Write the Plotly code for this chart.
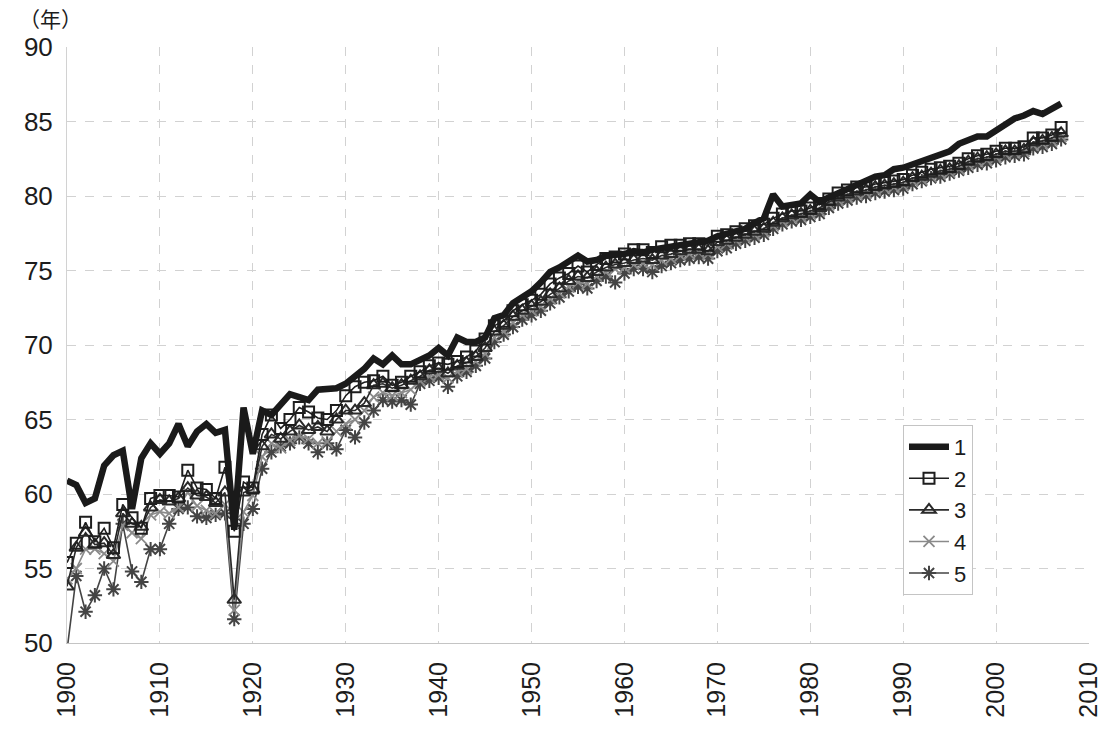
import plotly.graph_objects as go

years = list(range(1900, 2008))

series_1 = [
    60.9, 60.6, 59.4, 59.7, 61.9, 62.6, 62.9, 59.0, 62.4, 63.4,
    62.7, 63.4, 64.7, 63.2, 64.2, 64.7, 64.1, 64.3, 57.6, 65.8,
    62.7, 65.6, 65.3, 66.0, 66.7, 66.5, 66.3, 67.0, 67.0, 67.1,
    67.4, 67.9, 68.4, 69.1, 68.7, 69.3, 68.7, 68.7, 69.0, 69.3,
    69.8, 69.3, 70.5, 70.2, 70.2, 70.5, 71.8, 72.0, 72.8, 73.2,
    73.6, 74.2, 74.9, 75.2, 75.6, 76.0, 75.6, 75.7, 76.0, 76.0,
    76.1, 76.3, 76.2, 76.4, 76.5, 76.7, 76.8, 76.9, 76.9, 77.0,
    77.3, 77.5, 77.7, 77.8, 78.2, 78.5, 80.1, 79.3, 79.4, 79.5,
    80.1, 79.6, 79.9, 80.2, 80.5, 80.8, 81.0, 81.3, 81.4, 81.8,
    81.9, 82.1, 82.3, 82.5, 82.7, 83.0, 83.5, 83.8, 84.0, 84.0,
    84.4, 84.9, 85.2, 85.4, 85.7, 85.5, 85.8, 86.2,
]

series_2 = [
    55.4, 56.7, 58.1, 56.8, 57.7, 56.4, 59.3, 58.4, 57.7, 59.7,
    59.9, 59.9, 59.8, 61.6, 60.4, 60.3, 59.7, 61.8, 57.5, 60.8,
    60.4, 64.0, 65.3, 64.4, 65.0, 65.8, 65.5, 65.1, 65.0, 65.6,
    66.6, 67.2, 67.5, 67.6, 67.9, 67.3, 67.5, 67.9, 68.2, 68.6,
    68.8, 68.7, 68.9, 69.2, 69.6, 70.4, 71.3, 71.6, 72.3, 72.7,
    73.0, 73.4, 74.1, 74.5, 74.8, 75.3, 74.9, 75.4, 75.8, 75.9,
    76.1, 76.4, 76.4, 76.2, 76.6, 76.7, 76.7, 76.8, 76.8, 76.7,
    77.3, 77.4, 77.6, 77.8, 78.0, 78.1, 78.5, 78.8, 79.0, 79.0,
    79.2, 79.5, 79.8, 80.2, 80.4, 80.6, 80.6, 80.8, 80.9, 81.0,
    81.1, 81.4, 81.6, 81.8, 81.9, 82.0, 82.2, 82.5, 82.7, 82.8,
    83.0, 83.2, 83.2, 83.3, 83.9, 83.9, 84.1, 84.6,
]

series_3 = [
    53.8, 56.4, 57.4, 56.6, 56.7, 55.9, 58.7, 58.0, 57.8, 59.1,
    59.6, 59.5, 59.7, 60.4, 59.9, 59.8, 59.4, 60.1, 52.9, 60.1,
    60.3, 63.2, 64.0, 63.7, 64.2, 64.6, 64.3, 64.5, 64.2, 65.0,
    65.6, 65.6, 66.1, 67.3, 67.4, 67.1, 67.3, 67.6, 67.9, 68.3,
    68.4, 68.1, 68.6, 68.8, 69.2, 69.8, 70.9, 71.3, 71.9, 72.3,
    72.6, 72.9, 73.4, 73.8, 74.3, 74.6, 74.5, 74.9, 75.2, 75.4,
    75.5, 75.7, 75.8, 75.7, 76.0, 76.1, 76.3, 76.4, 76.4, 76.3,
    76.9, 77.0, 77.2, 77.4, 77.6, 77.8, 78.2, 78.5, 78.7, 78.8,
    79.0, 79.2, 79.6, 79.9, 80.1, 80.3, 80.4, 80.6, 80.7, 80.8,
    80.9, 81.2, 81.3, 81.5, 81.7, 81.8, 82.0, 82.3, 82.5, 82.6,
    82.8, 83.0, 83.0, 83.1, 83.6, 83.7, 83.9, 84.2,
]

series_4 = [
    54.3, 55.0, 56.3, 56.3, 56.0, 55.5, 57.9, 57.4, 57.0, 58.6,
    58.8, 58.7, 59.1, 60.1, 59.2, 58.9, 58.7, 59.3, 52.2, 58.8,
    59.9, 62.5, 63.4, 63.1, 63.6, 63.9, 63.7, 63.4, 63.5, 64.2,
    64.7, 65.0, 65.6, 66.5, 66.8, 66.6, 66.8, 67.0, 67.6, 67.9,
    68.0, 67.8, 68.2, 68.4, 68.9, 69.4, 70.5, 70.9, 71.5, 72.0,
    72.3, 72.6, 73.1, 73.5, 73.9, 74.2, 74.1, 74.6, 74.9, 75.1,
    75.2, 75.4, 75.5, 75.4, 75.7, 75.8, 76.0, 76.1, 76.2, 76.1,
    76.6, 76.8, 77.0, 77.2, 77.4, 77.6, 78.0, 78.3, 78.5, 78.6,
    78.8, 79.0, 79.4, 79.7, 79.9, 80.1, 80.2, 80.4, 80.5, 80.6,
    80.7, 81.0, 81.1, 81.3, 81.5, 81.6, 81.8, 82.1, 82.3, 82.4,
    82.6, 82.8, 82.9, 83.0, 83.4, 83.5, 83.7, 84.0,
]

series_5 = [
    49.5, 54.5, 52.1, 53.2, 55.0, 53.6, 58.0, 54.8, 54.1, 56.3,
    56.3, 58.0, 59.0, 59.1, 58.5, 58.4, 58.6, 58.7, 51.6, 58.0,
    59.0, 61.7, 62.8, 63.2, 63.4, 63.8, 63.4, 62.8, 63.4, 63.0,
    64.3, 63.8, 64.8, 65.6, 66.3, 66.2, 66.3, 66.0, 67.4, 67.6,
    67.8, 67.2, 67.9, 68.2, 68.6, 69.1, 70.2, 70.7, 71.2, 71.7,
    72.0, 72.3, 72.8, 73.2, 73.6, 73.9, 73.8, 74.3, 74.6, 74.2,
    74.8, 75.1, 75.1, 74.9, 75.3, 75.5, 75.7, 75.8, 75.9, 75.8,
    76.3, 76.5, 76.8, 77.0, 77.2, 77.4, 77.8, 78.1, 78.3, 78.4,
    78.6, 78.8, 79.2, 79.5, 79.7, 79.9, 80.0, 80.2, 80.3, 80.4,
    80.5, 80.8, 81.0, 81.2, 81.3, 81.5, 81.7, 81.9, 82.1, 82.2,
    82.4, 82.6, 82.7, 82.8, 83.2, 83.3, 83.5, 83.8,
]

x_ticks = list(range(1900, 2011, 10))
y_ticks = list(range(50, 91, 5))

FONT = "Liberation Sans, Arial, sans-serif"
INK = "#1c1c1c"

fig = go.Figure()

# plain series first so the thick line sits on top
fig.add_trace(go.Scatter(
    x=years, y=series_5, name="5", mode="lines+markers",
    line=dict(color="#444444", width=1.6),
    marker=dict(symbol="asterisk-open", size=12, color="#444444",
                line=dict(color="#444444", width=2)),
))
fig.add_trace(go.Scatter(
    x=years, y=series_4, name="4", mode="lines+markers",
    line=dict(color="#8a8a8a", width=1.6),
    marker=dict(symbol="x-thin-open", size=11, color="#8a8a8a",
                line=dict(color="#8a8a8a", width=1.8)),
))
fig.add_trace(go.Scatter(
    x=years, y=series_3, name="3", mode="lines+markers",
    line=dict(color="#2a2a2a", width=1.6),
    marker=dict(symbol="triangle-up-open", size=12, color="#2a2a2a",
                line=dict(color="#2a2a2a", width=2)),
))
fig.add_trace(go.Scatter(
    x=years, y=series_2, name="2", mode="lines+markers",
    line=dict(color="#1e1e1e", width=1.6),
    marker=dict(symbol="square-open", size=11, color="#1e1e1e",
                line=dict(color="#1e1e1e", width=2)),
))
fig.add_trace(go.Scatter(
    x=years, y=series_1, name="1", mode="lines",
    line=dict(color="#1a1a1a", width=6.5),
))

fig.update_layout(
    width=1114, height=730,
    margin=dict(l=67, r=14, t=47, b=87),
    paper_bgcolor="white", plot_bgcolor="white",
    font=dict(family=FONT, color=INK),
    showlegend=True,
    legend=dict(
        x=0.818, y=0.366, xanchor="left", yanchor="top",
        traceorder="reversed",
        bgcolor="white", bordercolor="#c4c4c4", borderwidth=1,
        font=dict(size=22, family=FONT, color=INK),
        tracegroupgap=0, itemwidth=40,
    ),
    xaxis=dict(
        range=[1900, 2010], tickmode="array", tickvals=x_ticks,
        ticktext=[str(v) for v in x_ticks], tickangle=-90,
        tickfont=dict(size=25, family=FONT, color=INK),
        ticklabelstandoff=8,
        showgrid=True, gridcolor="#d2d2d2", griddash="dash", gridwidth=1,
        showline=True, linecolor="#c4c4c4", linewidth=1, mirror=False,
        ticks="", zeroline=False,
    ),
    yaxis=dict(
        range=[50, 90], tickmode="array", tickvals=y_ticks,
        ticktext=[str(v) for v in y_ticks],
        tickfont=dict(size=26, family=FONT, color=INK),
        ticklabelstandoff=8,
        showgrid=True, gridcolor="#d2d2d2", griddash="dash", gridwidth=1,
        showline=True, linecolor="#d2d2d2", linewidth=1,
        ticks="", zeroline=False,
    ),
    annotations=[dict(
        text="（年）", xref="paper", yref="paper",
        x=-0.016, y=1.0, xanchor="center", yanchor="bottom", yshift=12,
        showarrow=False,
        font=dict(size=21, family="Noto Sans CJK JP", color=INK),
    )],
)

fig.write_html("out.html")
